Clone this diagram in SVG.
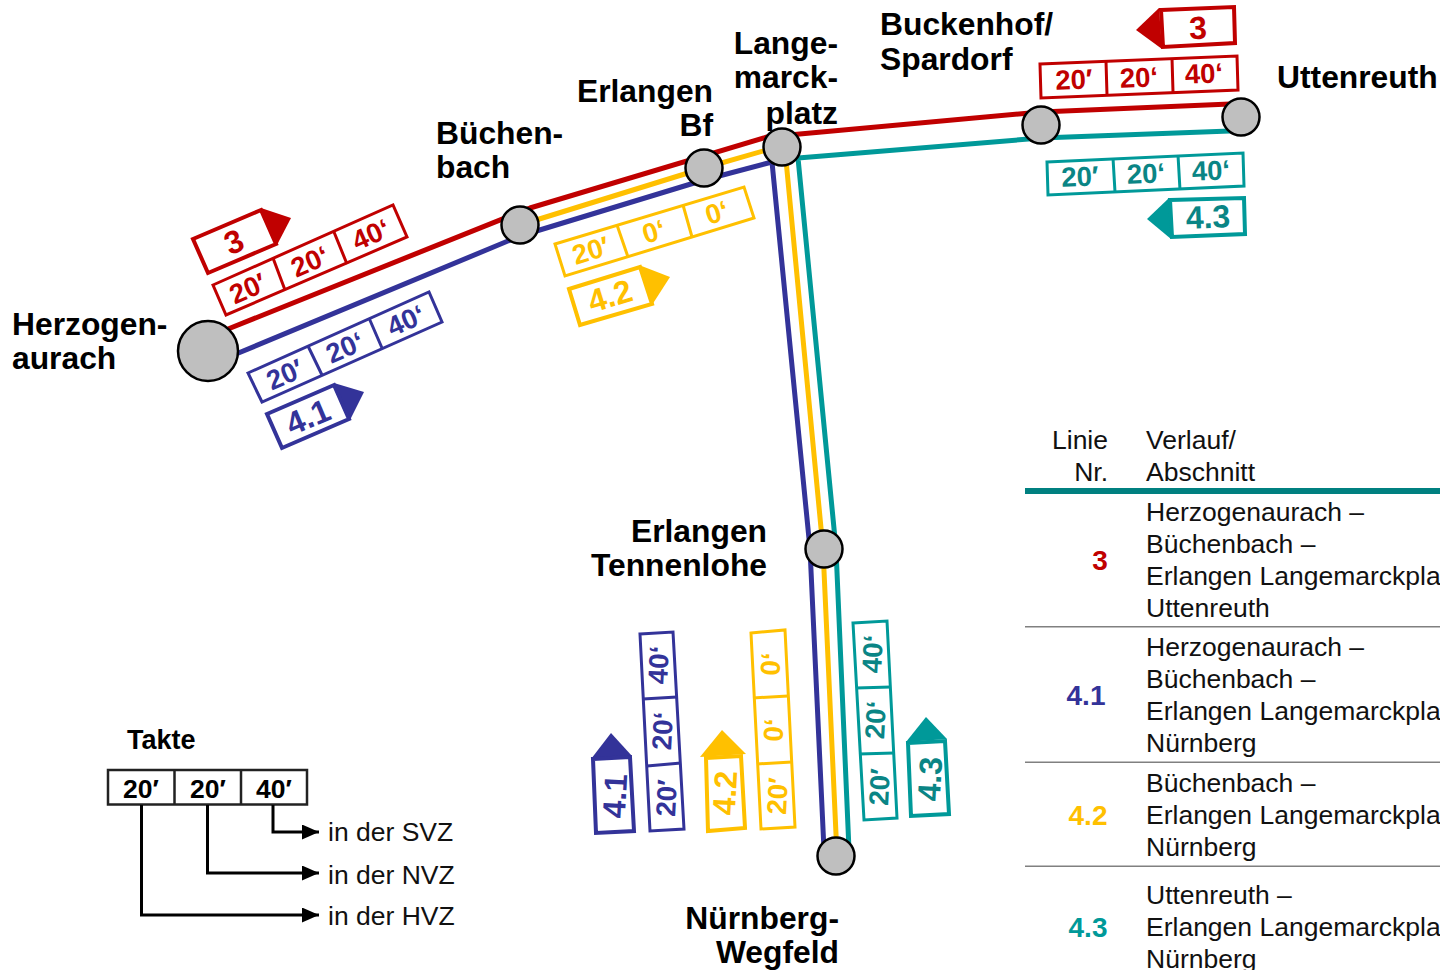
<svg xmlns="http://www.w3.org/2000/svg" width="1440" height="970" viewBox="0 0 1440 970">
<style>
text{font-family:"Liberation Sans",Arial,sans-serif}
.l{font-size:31.8px;font-weight:700;fill:#000}
.e{text-anchor:end}
.t{font-size:26.5px;fill:#111}
.n{font-size:28px;font-weight:700;text-anchor:middle}
.c{font-size:27.5px;font-weight:700;text-anchor:middle}
.lc{font-size:26.5px;font-weight:700;text-anchor:middle}
.g{font-size:32px;font-weight:700;text-anchor:middle}
.box{fill:#fff;stroke-width:3}
.tag{fill:#fff;stroke-width:4}
.div{fill:none;stroke-width:3}
.line{fill:none;stroke-width:5;stroke-linejoin:round}
.node{fill:#bfbfbf;stroke:#000;stroke-width:2.5}
.red{stroke:#c00000}.blue{stroke:#333399}.yel{stroke:#ffc000}.teal{stroke:#009999}
.fr{fill:#c00000}.fb{fill:#333399}.fy{fill:#ffc000}.ft{fill:#009999}.ftd{fill:#0a8585}
.leg{fill:none;stroke:#000;stroke-width:3}
</style>
<defs>
<marker id="arr" markerUnits="userSpaceOnUse" markerWidth="18" markerHeight="16" refX="17" refY="7.5" orient="auto"><polygon points="0,0 17,7.5 0,15" fill="#000"/></marker>
</defs>

<g id="connectors">
<polyline class="line red" points="228,329 530,208 767,137 1041,112 1230,104"/>
<polyline class="line yel" points="520,225 704,168 770,149"/>
<polyline class="line blue" points="236,354 520,236 704,180 772,162 810,549 824,850"/>
<polyline class="line yel" points="786,160 823,549 837,856"/>
<polyline class="line teal" points="1230,131 1041,138 798,158 836,549 849,850"/>
</g>

<g id="nodes">
<g id="node-herzogenaurach"><circle class="node" cx="208" cy="351" r="30"/><text class="l" x="12" y="335">Herzogen-</text><text class="l" x="12" y="369">aurach</text></g>
<g id="node-buechenbach"><circle class="node" cx="520" cy="225" r="18.5"/><text class="l" x="436" y="144">Büchen-</text><text class="l" x="436" y="178">bach</text></g>
<g id="node-erlangen-bf"><circle class="node" cx="704" cy="168" r="18.5"/><text class="l e" x="713" y="102">Erlangen</text><text class="l e" x="713" y="136">Bf</text></g>
<g id="node-langemarckplatz"><circle class="node" cx="782" cy="147" r="18.5"/><text class="l e" x="838" y="54">Lange-</text><text class="l e" x="838" y="88">marck-</text><text class="l e" x="838" y="124">platz</text></g>
<g id="node-buckenhof"><circle class="node" cx="1041" cy="125" r="18.5"/><text class="l" x="880" y="35">Buckenhof/</text><text class="l" x="880" y="70">Spardorf</text></g>
<g id="node-uttenreuth"><circle class="node" cx="1241" cy="117" r="18.5"/><text class="l" x="1277" y="88">Uttenreuth</text></g>
<g id="node-tennenlohe"><circle class="node" cx="824" cy="549" r="18.5"/><text class="l e" x="767" y="542">Erlangen</text><text class="l e" x="767" y="576">Tennenlohe</text></g>
<g id="node-wegfeld"><circle class="node" cx="836" cy="856" r="18.5"/><text class="l e" x="839" y="929">Nürnberg-</text><text class="l e" x="839" y="963">Wegfeld</text></g>
</g>

<g id="tags">
<g id="tag-3-west">
<polygon class="fr" points="261,208 291,218 277,245"/>
<polygon class="tag red" points="193,239 261,210 276,244 208,273"/>
<text class="g fr" transform="translate(234 242) rotate(-23)" y="11">3</text>
<polygon class="box red" points="213,285 393,205 407,237 226,315"/>
<path class="div red" d="M273,258L285,290M334,232L347,264"/>
<g class="fr"><text class="c" transform="translate(248 289) rotate(-24)" y="9">20′</text><text class="c" transform="translate(310 262) rotate(-24)" y="9">20‘</text><text class="c" transform="translate(371 235) rotate(-24)" y="9">40‘</text></g>
</g>
<g id="tag-41-west">
<polygon class="fb" points="334,383 364,392 350,420"/>
<polygon class="tag blue" points="267,414 334,385 349,419 282,448"/>
<text class="g fb" transform="translate(308 417) rotate(-23)" y="11">4.1</text>
<polygon class="box blue" points="248,373 429,292 442,322 262,402"/>
<path class="div blue" d="M308,346L322,375M369,318L382,348"/>
<g class="fb"><text class="c" transform="translate(285 375) rotate(-24)" y="9">20′</text><text class="c" transform="translate(345 348) rotate(-24)" y="9">20‘</text><text class="c" transform="translate(406 321) rotate(-24)" y="9">40‘</text></g>
</g>
<g id="tag-42-west">
<polygon class="fy" points="639,265 670,277 652,305"/>
<polygon class="tag yel" points="569,289 640,267 652,304 580,325"/>
<text class="g fy" transform="translate(610 296) rotate(-17)" y="11">4.2</text>
<polygon class="box yel" points="555,244 744,187 754,218 565,276"/>
<path class="div yel" d="M617,225L628,257M683,205L692,237"/>
<g class="fy"><text class="c" transform="translate(591 251) rotate(-17)" y="9">20′</text><text class="c" transform="translate(654 232) rotate(-17)" y="9">0‘</text><text class="c" transform="translate(717 213) rotate(-17)" y="9">0‘</text></g>
</g>
<g id="tag-3-east">
<polygon class="fr" points="1159,8 1136,30 1162,49"/>
<polygon class="tag red" points="1161,10 1234,7 1235,43 1163,47"/>
<text class="g fr" transform="translate(1198 28) rotate(-2)" y="11">3</text>
<polygon class="box red" points="1040,64 1237,56 1238,90 1041,98"/>
<path class="div red" d="M1106,61L1107,95M1172,58L1173,92"/>
<g class="fr"><text class="c" transform="translate(1074 80) rotate(-2.4)" y="9">20′</text><text class="c" transform="translate(1139 78) rotate(-2.4)" y="9">20‘</text><text class="c" transform="translate(1204 74) rotate(-2.4)" y="9">40‘</text></g>
</g>
<g id="tag-43-east">
<polygon class="ft" points="1169,198 1147,219 1171,239"/>
<polygon class="tag teal" points="1170,200 1244,198 1245,234 1172,237"/>
<text class="g ftd" transform="translate(1208 217) rotate(-2)" y="11">4.3</text>
<polygon class="box teal" points="1047,162 1243,153 1244,186 1048,195"/>
<path class="div teal" d="M1113,158L1115,192M1178,155L1180,190"/>
<g class="ftd"><text class="c" transform="translate(1080 177) rotate(-2.4)" y="9">20′</text><text class="c" transform="translate(1146 174) rotate(-2.4)" y="9">20‘</text><text class="c" transform="translate(1211 171) rotate(-2.4)" y="9">40‘</text></g>
</g>
<g id="tag-41-south">
<polygon class="fb" points="591,759 611,733 632,756"/>
<polygon class="tag blue" points="593,759 630,757 634,831 596,833"/>
<text class="g fb" transform="translate(615 796) rotate(-87)" y="11">4.1</text>
<polygon class="box blue" points="640,634 673,632 684,829 650,831"/>
<path class="div blue" d="M643,699L677,697M647,766L681,763"/>
<g class="fb"><text class="c" transform="translate(659 665) rotate(-87)" y="9">40‘</text><text class="c" transform="translate(663 731) rotate(-87)" y="9">20‘</text><text class="c" transform="translate(667 798) rotate(-87)" y="9">20′</text></g>
</g>
<g id="tag-42-south">
<polygon class="fy" points="700,757 722,730 746,754"/>
<polygon class="tag yel" points="706,758 741,756 745,828 708,831"/>
<text class="g fy" transform="translate(725 793) rotate(-87)" y="11">4.2</text>
<polygon class="box yel" points="751,633 785,630 795,827 761,829"/>
<path class="div yel" d="M753,698L788,696M757,764L792,762"/>
<g class="fy"><text class="c" transform="translate(771 664) rotate(-87)" y="9">0‘</text><text class="c" transform="translate(774 730) rotate(-87)" y="9">0‘</text><text class="c" transform="translate(778 796) rotate(-87)" y="9">20′</text></g>
</g>
<g id="tag-43-south">
<polygon class="ft" points="906,742 926,717 947,739"/>
<polygon class="tag teal" points="908,743 945,741 949,814 911,816"/>
<text class="g ftd" transform="translate(930 779) rotate(-87)" y="11">4.3</text>
<polygon class="box teal" points="853,623 887,621 897,818 864,820"/>
<path class="div teal" d="M856,688L891,687M859,754L894,753"/>
<g class="ftd"><text class="c" transform="translate(873 654) rotate(-87)" y="9">40‘</text><text class="c" transform="translate(876 720) rotate(-87)" y="9">20‘</text><text class="c" transform="translate(880 787) rotate(-87)" y="9">20′</text></g>
</g>
</g>

<g id="legend">
<text x="127" y="749" font-size="27" font-weight="700">Takte</text>
<rect x="108" y="770" width="199" height="34.5" fill="#fff" stroke="#222" stroke-width="2.5"/>
<path d="M174.500,770V805M241,770V805" fill="none" stroke="#222" stroke-width="2.5"/>
<text class="lc" x="141" y="798">20′</text><text class="lc" x="208" y="798">20′</text><text class="lc" x="274" y="798">40′</text>
<path class="leg" d="M273,805V832H319" marker-end="url(#arr)"/>
<path class="leg" d="M207.500,805V873H319" marker-end="url(#arr)"/>
<path class="leg" d="M141.500,805V915H319" marker-end="url(#arr)"/>
<text class="t" x="328" y="841">in der SVZ</text>
<text class="t" x="328" y="884">in der NVZ</text>
<text class="t" x="328" y="925">in der HVZ</text>
</g>

<g id="table">
<text class="t e" x="1108" y="449">Linie</text><text class="t e" x="1108" y="481">Nr.</text>
<text class="t" x="1146" y="449">Verlauf/</text><text class="t" x="1146" y="481">Abschnitt</text>
<rect x="1025" y="488" width="415" height="6" fill="#008080"/>
<rect x="1025" y="626" width="415" height="1.500" fill="#808080"/>
<rect x="1025" y="761.500" width="415" height="1.500" fill="#808080"/>
<rect x="1025" y="865.500" width="415" height="1.500" fill="#808080"/>
<text class="n fr" x="1100" y="570">3</text>
<text class="t" x="1146" y="521">Herzogenaurach –</text><text class="t" x="1146" y="553">Büchenbach –</text><text class="t" x="1146" y="585">Erlangen Langemarckpla</text><text class="t" x="1146" y="617">Uttenreuth</text>
<text class="n fb" x="1086" y="705">4.1</text>
<text class="t" x="1146" y="656">Herzogenaurach –</text><text class="t" x="1146" y="688">Büchenbach –</text><text class="t" x="1146" y="720">Erlangen Langemarckpla</text><text class="t" x="1146" y="752">Nürnberg</text>
<text class="n fy" x="1088" y="825">4.2</text>
<text class="t" x="1146" y="792">Büchenbach –</text><text class="t" x="1146" y="824">Erlangen Langemarckpla</text><text class="t" x="1146" y="856">Nürnberg</text>
<text class="n ft" x="1088" y="937">4.3</text>
<text class="t" x="1146" y="904">Uttenreuth –</text><text class="t" x="1146" y="936">Erlangen Langemarckpla</text><text class="t" x="1146" y="968">Nürnberg</text>
</g>
</svg>
